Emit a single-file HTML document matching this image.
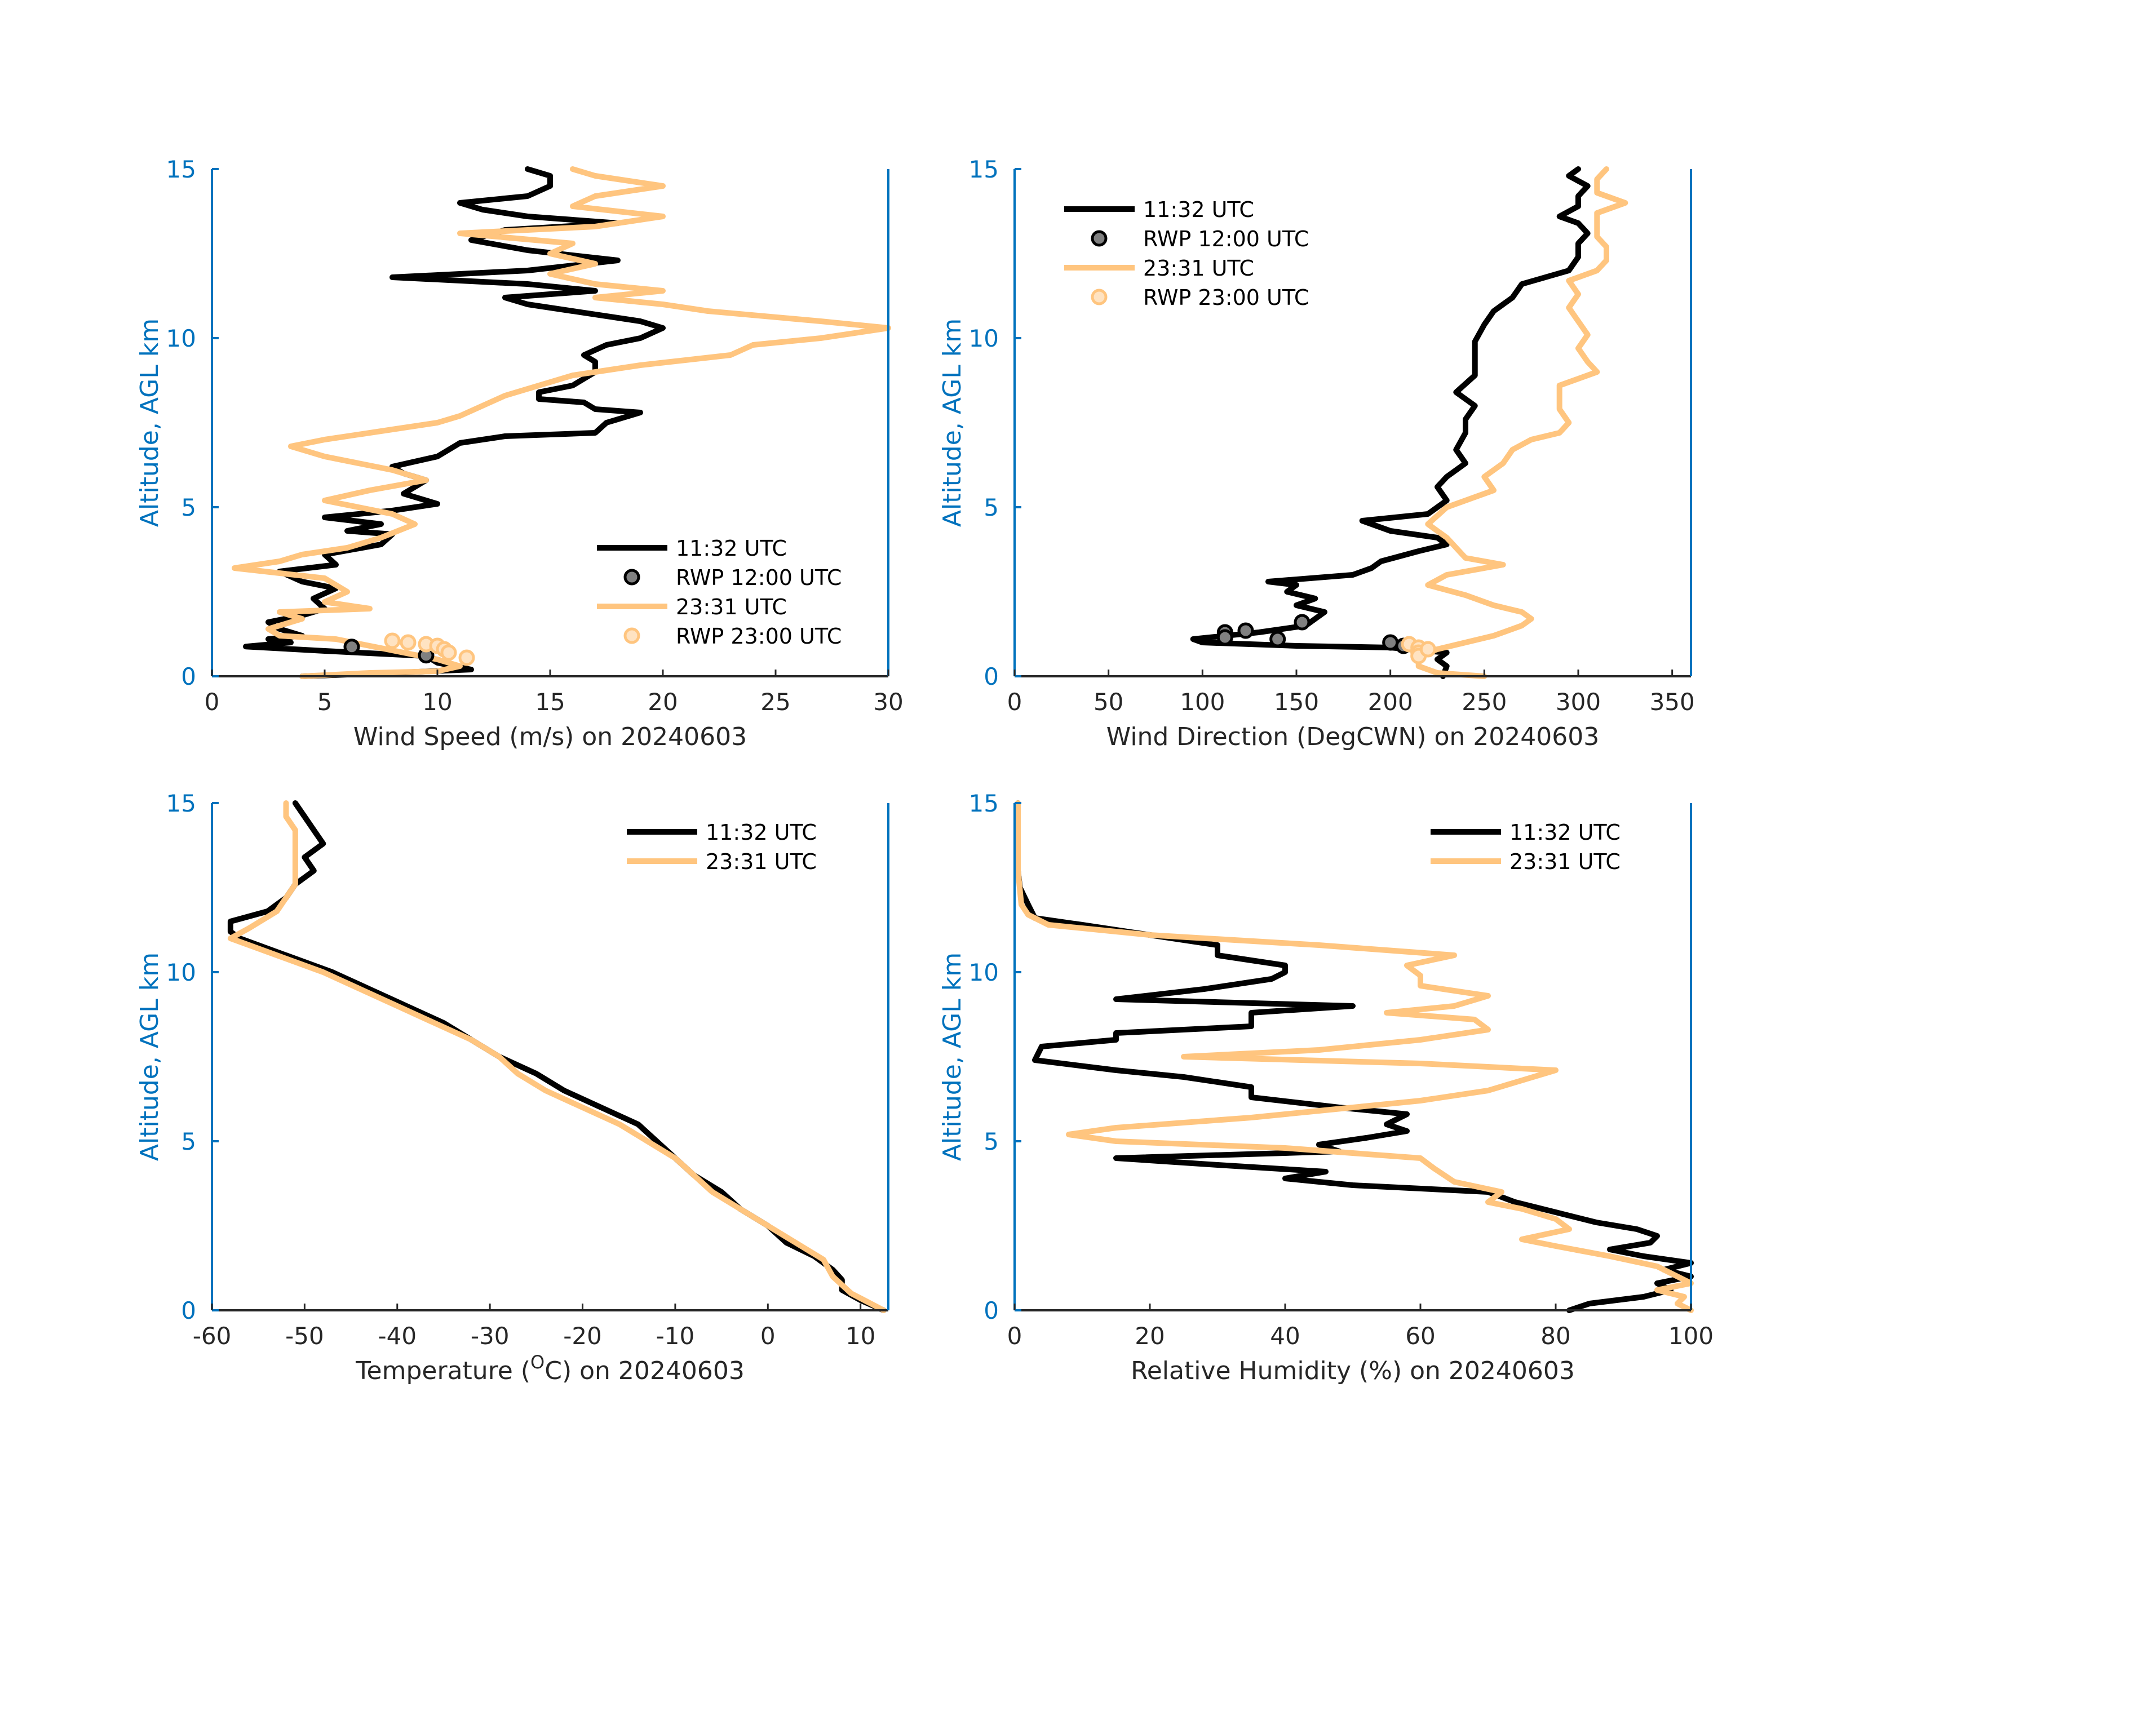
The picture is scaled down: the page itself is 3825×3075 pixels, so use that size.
<!DOCTYPE html>
<html><head><meta charset="utf-8"><style>
html,body{margin:0;padding:0;background:#fff;}
svg{display:block;font-family:"DejaVu Sans","Liberation Sans",sans-serif;}
</style></head><body>
<svg id="fig" width="3825" height="3075" viewBox="0 0 3825 3075" xmlns="http://www.w3.org/2000/svg"></svg>
<script>
// ---- data: altitude (km) and values ----
const wsBlackAlt=[0,0.1,0.2,0.4,0.6,0.75,0.88,1.0,1.1,1.2,1.4,1.6,1.8,2.0,2.3,2.6,2.8,3.1,3.3,3.6,3.9,4.2,4.3,4.5,4.7,4.9,5.1,5.4,5.8,6.0,6.2,6.5,6.7,6.9,7.1,7.2,7.5,7.8,7.9,8.1,8.2,8.4,8.6,9.0,9.3,9.5,9.8,10.0,10.3,10.5,10.8,11.0,11.2,11.4,11.6,11.8,12.0,12.3,12.6,12.9,13.2,13.4,13.6,13.8,14.0,14.2,14.5,14.8,15];
const wsBlack=[4,8,11.5,10,9.5,5,1.5,3.5,2.5,4,3,2.5,4,5,4.5,5.5,4,3,5.5,5,7.5,8,6,7.5,5,8,10,8.5,9.5,8.5,8,10,10.5,11,13,17,17.5,19,17,16.5,14.5,14.5,16,17,17,16.5,17.5,19,20,19,16,14,13,17,14,8,14,18,14,11.5,13,18,14,12,11,14,15,15,14];
const wsOrangeAlt=[0,0.1,0.15,0.3,0.5,0.7,0.9,1.1,1.2,1.4,1.7,1.9,2.0,2.2,2.5,2.9,3.2,3.4,3.6,3.8,4.1,4.5,4.8,5.2,5.5,5.8,6.1,6.5,6.8,7.0,7.3,7.5,7.7,8.0,8.3,8.6,8.9,9.2,9.5,9.8,10.0,10.2,10.3,10.5,10.8,11.0,11.2,11.4,11.6,11.9,12.2,12.5,12.8,13.1,13.3,13.6,13.9,14.2,14.5,14.8,15];
const wsOrange=[4,7,10,11,10,8.5,7,5.5,3,2.5,4,3,7,5,6,5,1,3,4,6,7.5,9,8,5,7,9.5,8,5,3.5,5,8,10,11,12,13,14.5,16,19,23,24,27,29,30,27,22,20,17,20,17,15,17,15,16,11,17,20,16,17,20,17,16];
const rwp12WsAlt=[0.87,0.62];
const rwp12Ws=[6.2,9.5];
const rwp23WsAlt=[1.05,1.0,0.95,0.9,0.8,0.7,0.55];
const rwp23Ws=[8,8.7,9.5,10,10.3,10.5,11.3];

const wdBlackAlt=[0,0.3,0.5,0.7,0.85,0.9,1.0,1.1,1.3,1.5,1.7,1.9,2.1,2.3,2.5,2.7,2.8,3.0,3.2,3.4,3.7,3.9,4.1,4.3,4.6,4.8,5.2,5.6,5.9,6.3,6.7,7.2,7.6,8.0,8.4,8.9,9.4,9.9,10.4,10.8,11.2,11.6,12.0,12.4,12.8,13.1,13.4,13.6,13.9,14.2,14.5,14.8,15];
const wdBlack=[228,230,225,230,200,150,100,95,130,155,160,165,150,160,145,150,135,180,190,195,215,230,225,200,185,220,230,225,230,240,235,240,240,245,235,245,245,245,250,255,265,270,295,300,300,305,300,290,300,300,305,295,300];
const wdOrangeAlt=[0,0.1,0.3,0.6,0.8,1.0,1.2,1.5,1.7,1.9,2.1,2.4,2.7,3.0,3.3,3.5,3.8,4.1,4.5,5.0,5.5,5.9,6.3,6.7,7.0,7.2,7.5,7.9,8.2,8.6,9.0,9.3,9.7,10.1,10.5,10.9,11.3,11.7,12.0,12.3,12.7,13.0,13.4,13.7,14.0,14.3,14.7,15];
const wdOrange=[250,225,215,215,225,240,255,270,275,270,255,240,220,230,260,240,235,230,220,230,255,250,260,265,275,290,295,290,290,290,310,305,300,305,300,295,300,295,310,315,315,310,310,310,325,310,310,315];
const rwp12WdAlt=[1.3,1.15,1.35,1.1,1.6,1.0,0.9];
const rwp12Wd=[112,112,123,140,153,200,207];
const rwp23WdAlt=[0.95,0.85,0.7,0.6,0.8];
const rwp23Wd=[210,215,215,215,220];

const tBlackAlt=[0,0.3,0.6,0.9,1.2,1.6,2.0,2.5,3.0,3.5,4.0,4.5,5.0,5.5,6.0,6.5,7.0,7.5,8.0,8.5,9.0,9.5,10.0,10.5,11.0,11.2,11.5,11.8,12.2,12.6,13.0,13.4,13.8,14.2,14.6,15];
const tBlack=[12.5,10,8,8,7,5,2,0,-3,-5,-8,-10,-12,-14,-18,-22,-25,-29,-32,-35,-39,-43,-47,-52,-57,-58,-58,-54,-52,-51,-49,-50,-48,-49,-50,-51];
const tOrangeAlt=[0,0.5,1,1.5,2,2.5,3,3.5,4,4.5,5,5.5,6,6.5,7,7.5,8,8.5,9,9.5,10,10.5,11,11.3,11.8,12.2,12.6,13,13.4,13.8,14.2,14.6,15];
const tOrange=[12.5,9,7,6,3,0,-3,-6,-8,-10,-13,-16,-20,-24,-27,-29,-32,-36,-40,-44,-48,-53,-58,-56,-53,-52,-51,-51,-51,-51,-51,-52,-52];

const rhBlackAlt=[0,0.2,0.4,0.6,0.8,1.0,1.2,1.4,1.6,1.8,2.0,2.2,2.4,2.6,2.9,3.2,3.5,3.7,3.9,4.1,4.3,4.5,4.7,4.9,5.1,5.3,5.5,5.8,6.0,6.3,6.6,6.9,7.1,7.4,7.8,8.0,8.2,8.4,8.8,9.0,9.2,9.5,9.8,10.0,10.2,10.5,10.8,11.1,11.4,11.6,12.0,12.5,13,14,15];
const rhBlack=[82,85,93,97,95,100,96,100,93,88,94,95,92,86,80,74,70,50,40,46,30,15,48,45,52,58,55,58,48,35,35,25,15,3,4,15,15,35,35,50,15,28,38,40,40,30,30,20,10,3,2,0.8,0.5,0.5,0.5];
const rhOrangeAlt=[0,0.2,0.4,0.6,0.8,1.0,1.3,1.6,1.9,2.1,2.4,2.7,3.0,3.2,3.5,3.8,4.2,4.5,4.8,5.0,5.2,5.4,5.7,5.9,6.2,6.5,6.8,7.1,7.3,7.5,7.7,8.0,8.3,8.6,8.8,9.0,9.3,9.6,9.9,10.2,10.5,10.8,11.1,11.4,11.7,12,13,14,15];
const rhOrange=[100,98,99,95,100,98,95,88,80,75,82,80,75,70,72,65,62,60,40,15,8,15,35,45,60,70,75,80,60,25,45,60,70,68,55,65,70,60,60,58,65,45,20,5,2,1,0.5,0.5,0.5];

const altTicks=[0,5,10,15];
const wsTicks=[0,5,10,15,20,25,30];
const wdTicks=[0,50,100,150,200,250,300,350];
const tTicks=[-60,-50,-40,-30,-20,-10,0,10];
const rhTicks=[0,20,40,60,80,100];

const NS="http://www.w3.org/2000/svg";
const svg=document.getElementById('fig');
const BLUE="#0072BD", ORANGE="#FFC57F";
function mk(tag,attrs,parent){const e=document.createElementNS(NS,tag);for(const k in attrs)e.setAttribute(k,attrs[k]);(parent||svg).appendChild(e);return e;}

function panel(cfg){
  const g=mk('g',{});
  
  
  const sx=v=>cfg.x0+(v-cfg.xmin)/(cfg.xmax-cfg.xmin)*(cfg.x1-cfg.x0);
  const sy=a=>cfg.y1-(a/15)*(cfg.y1-cfg.y0);
  cfg.lines.forEach(s=>{
    let d='';s.alt.forEach((a,i)=>{d+=(i?'L':'M')+sx(s.val[i]).toFixed(1)+' '+sy(a).toFixed(1);});
    const p=mk('path',{d:d,fill:'none',stroke:s.color,'stroke-width':10,'stroke-linejoin':'round','stroke-linecap':'round'},g);
    
    
  });
  (cfg.markers||[]).forEach(m=>{
    m.alt.forEach((a,i)=>{
      const c=mk('circle',{cx:sx(m.val[i]),cy:sy(a),r:12,fill:m.fill,stroke:m.stroke,'stroke-width':5},g);
      
      
    });
  });
  const ax=mk('g',{},g);
  
  
  mk('line',{x1:cfg.x0,y1:cfg.y1,x2:cfg.x1,y2:cfg.y1,stroke:'#262626','stroke-width':4},ax);
  mk('line',{x1:cfg.x0,y1:cfg.y0,x2:cfg.x0,y2:cfg.y1,stroke:BLUE,'stroke-width':4},ax);
  mk('line',{x1:cfg.x1,y1:cfg.y0,x2:cfg.x1,y2:cfg.y1,stroke:BLUE,'stroke-width':4},ax);
  altTicks.forEach(t=>{
    mk('line',{x1:cfg.x0,y1:sy(t),x2:cfg.x0+12,y2:sy(t),stroke:BLUE,'stroke-width':4},ax);
    const tx=mk('text',{x:cfg.x0-28,y:sy(t)+15,'text-anchor':'end','font-size':42,fill:BLUE},ax);
    tx.textContent=t;
    
    
  });
  cfg.ticks.forEach(t=>{
    mk('line',{x1:sx(t),y1:cfg.y1,x2:sx(t),y2:cfg.y1-12,stroke:'#262626','stroke-width':3},ax);
    const tx=mk('text',{x:sx(t),y:cfg.y1+60,'text-anchor':'middle','font-size':42,fill:'#262626'},ax);
    tx.textContent=t;
    
    
  });
  const yl=mk('text',{x:0,y:0,transform:`translate(${cfg.x0-96},${(cfg.y0+cfg.y1)/2}) rotate(-90)`,'text-anchor':'middle','font-size':44,fill:BLUE},g);
  yl.textContent='Altitude, AGL km';
  
  
  const xl=mk('text',{x:(cfg.x0+cfg.x1)/2,y:cfg.y1+122,'text-anchor':'middle','font-size':44,fill:'#262626'},g);
  xl.innerHTML=cfg.xlabel;
  
  
  const lg=mk('g',{},g);
  
  
  cfg.legend.items.forEach((it,i)=>{
    const y=cfg.legend.y+i*52;
    const L=cfg.legend.x;
    if(it.type==='line') mk('line',{x1:L,y1:y,x2:L+125,y2:y,stroke:it.color,'stroke-width':10},lg);
    else mk('circle',{cx:L+62,cy:y,r:12,fill:it.fill,stroke:it.stroke,'stroke-width':5},lg);
    const t=mk('text',{x:L+140,y:y+14,'font-size':38,fill:'#000'},lg);
    t.textContent=it.label;
    
    
  });
}
const L4=[{type:'line',color:'#000',label:'11:32 UTC'},{type:'dot',fill:'#808080',stroke:'#000',label:'RWP 12:00 UTC'},{type:'line',color:ORANGE,label:'23:31 UTC'},{type:'dot',fill:'#FFE3C2',stroke:ORANGE,label:'RWP 23:00 UTC'}];
const L2=[L4[0],L4[2]];
panel({name:'wind-speed-panel',x0:376,x1:1576,y0:300,y1:1200,xmin:0,xmax:30,ticks:wsTicks,xlabel:'Wind Speed (m/s) on 20240603',
  lines:[{name:'wind-speed-1132',alt:wsBlackAlt,val:wsBlack,color:'#000'},{name:'wind-speed-2331',alt:wsOrangeAlt,val:wsOrange,color:ORANGE}],
  markers:[{name:'rwp-1200-point',alt:rwp12WsAlt,val:rwp12Ws,fill:'#808080',stroke:'#000'},{name:'rwp-2300-point',alt:rwp23WsAlt,val:rwp23Ws,fill:'#FFE3C2',stroke:ORANGE}],
  legend:{x:1059,y:972,items:L4}});
panel({name:'wind-direction-panel',x0:1800,x1:3000,y0:300,y1:1200,xmin:0,xmax:360,ticks:wdTicks,xlabel:'Wind Direction (DegCWN) on 20240603',
  lines:[{name:'wind-dir-1132',alt:wdBlackAlt,val:wdBlack,color:'#000'},{name:'wind-dir-2331',alt:wdOrangeAlt,val:wdOrange,color:ORANGE}],
  markers:[{name:'rwp-1200-point',alt:rwp12WdAlt,val:rwp12Wd,fill:'#808080',stroke:'#000'},{name:'rwp-2300-point',alt:rwp23WdAlt,val:rwp23Wd,fill:'#FFE3C2',stroke:ORANGE}],
  legend:{x:1888,y:371,items:L4}});
panel({name:'temperature-panel',x0:376,x1:1576,y0:1425,y1:2325,xmin:-60,xmax:13,ticks:tTicks,xlabel:'Temperature (<tspan baseline-shift="super" font-size="32">O</tspan>C) on 20240603',
  lines:[{name:'temp-1132',alt:tBlackAlt,val:tBlack,color:'#000'},{name:'temp-2331',alt:tOrangeAlt,val:tOrange,color:ORANGE}],
  legend:{x:1112,y:1476,items:L2}});
panel({name:'humidity-panel',x0:1800,x1:3000,y0:1425,y1:2325,xmin:0,xmax:100,ticks:rhTicks,xlabel:'Relative Humidity (%) on 20240603',
  lines:[{name:'rh-1132',alt:rhBlackAlt,val:rhBlack,color:'#000'},{name:'rh-2331',alt:rhOrangeAlt,val:rhOrange,color:ORANGE}],
  legend:{x:2538,y:1476,items:L2}});
</script>
</body></html>
